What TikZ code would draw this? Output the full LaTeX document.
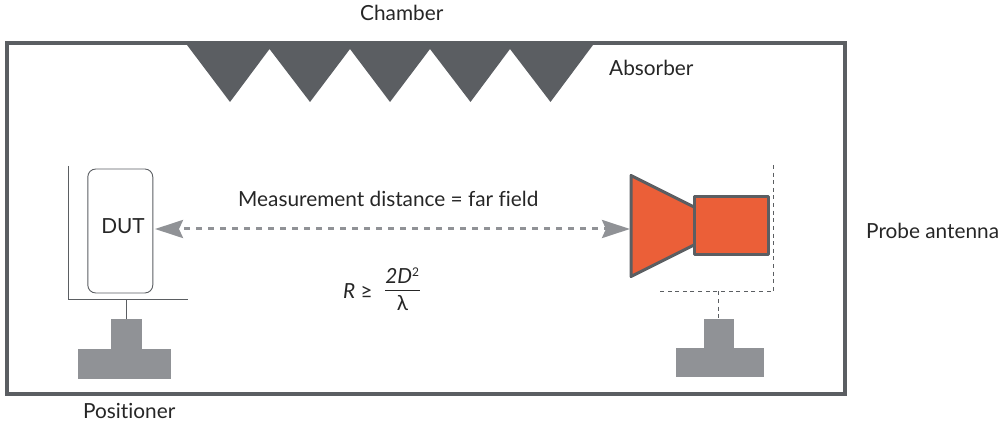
\documentclass[tikz,border=0pt]{standalone}
\usepackage{fontspec}
\setmainfont{Lato}[Ligatures=NoCommon]
\usetikzlibrary{arrows.meta}
\definecolor{wallgray}{HTML}{5B5E62}
\definecolor{postgray}{HTML}{909296}
\definecolor{hornred}{HTML}{EB5F38}
\begin{document}
\begin{tikzpicture}[x=1pt, y=-1pt, font=\fontsize{20.8}{24}\selectfont, text=black!85,
  lab/.style={inner sep=0pt, anchor=base west},
  post/.style={fill=postgray, draw=none, inner sep=0pt},
  thinline/.style={draw=wallgray, line width=0.8pt},
  thindash/.style={draw=wallgray, line width=0.9pt, dash pattern=on 4pt off 3.613pt},
  horn/.style={fill=hornred, draw=wallgray, line width=3pt, line join=round},
  farrange/.style={draw=postgray, line width=3pt, dash pattern=on 6pt off 6pt, dash phase=6pt,
        {Stealth[length=28pt, width=18pt, inset=4pt]}-{Stealth[length=28pt, width=18pt, inset=4pt]}},
]
  \useasboundingbox (0,0) rectangle (1004,427);
  \draw[draw=wallgray, line width=3.6pt] (7,43) rectangle (845,394);
  \fill[wallgray] (185.5,43) -- (230,102) -- (269.5,49) -- (310,102) -- (350,49) -- (390,102)
    -- (430,49) -- (470.5,102) -- (510,49) -- (550.5,102) -- (594.5,43) -- cycle;
  \node[lab] (chamber) at (360,21) {Chamber};
  \node[lab] (absorber) at (609,76) {Absorber};
  \node[lab] (probe) at (866,239) {Probe antenna};
  \node[lab] (positioner) at (83,418) {Positioner};
  \node[lab] (distance) at (238,207) {Measurement distance = far field};
  \node[draw=wallgray, line width=0.9pt, rounded corners=8pt, minimum width=65pt, minimum height=124pt,
    inner sep=0pt] (dut) at (120.3,231) {};
  \node[inner sep=0pt, anchor=base] (dutlabel) at (123,234) {DUT};
  \coordinate (cradle) at (126,299.5);
  \draw[thinline] (68.5,166) -- (68.5,299.5) -- (188,299.5);
  \node[post, minimum width=31pt, minimum height=30pt] (stemL) at (126.5,334) {};
  \node[post, minimum width=93pt, minimum height=30pt] (baseL) at (124.5,364) {};
  \draw[thinline] (cradle) -- (stemL.north -| cradle);
  \path[horn] (631,175.5) -- (696,208) -- (696,244) -- (631,276.5) -- cycle;
  \node[horn, minimum width=74pt, minimum height=58pt, inner sep=0pt] (box) at (731.5,225.5) {};
  \coordinate (mouth) at (630,229);
  \coordinate (dutside) at (155,229);
  \draw[thindash] (773.5,165) -- (773.5,291.5) -- (660,291.5);
  \coordinate (hanger) at (718.5,291.5);
  \node[post, minimum width=30pt, minimum height=30pt] (stemR) at (719,334) {};
  \node[post, minimum width=88pt, minimum height=29pt] (baseR) at (720,362.5) {};
  \draw[thindash] (hanger) -- (stemR.north -| hanger);
  \draw[farrange] (dutside) -- (mouth);
  \node[lab] (rlabel) at (343,299) {\textit{R} ≥};
  \node[inner sep=0pt] (fraction) at (402.5,292.5)
    {\begin{tabular}{@{}c@{}}\textit{2D}\textsuperscript{\fontsize{12}{12}\selectfont 2}\\[-1pt]\hline\rule{0pt}{20pt}λ\end{tabular}};
\end{tikzpicture}
\end{document}
